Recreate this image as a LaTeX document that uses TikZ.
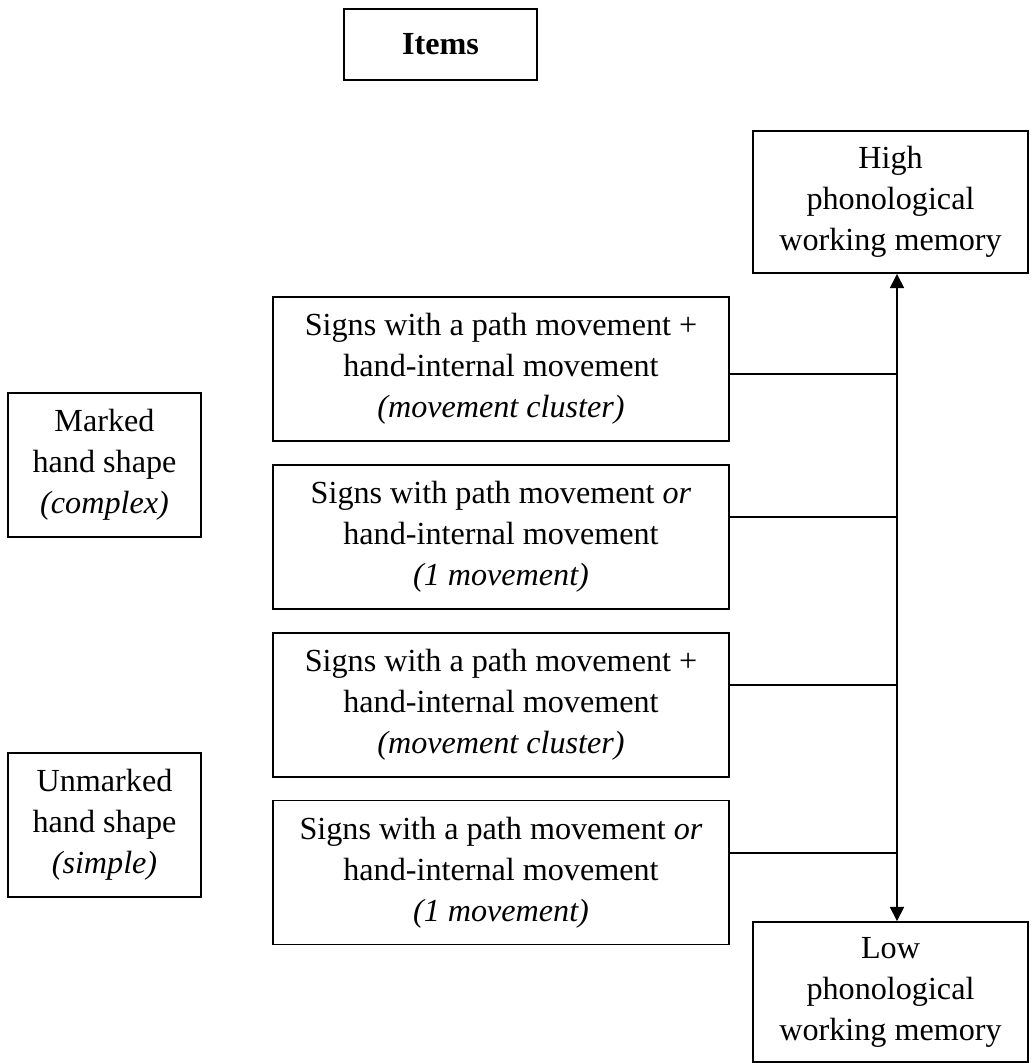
\documentclass[tikz,border=0pt]{standalone}
\usepackage{fontspec}
\setmainfont{Liberation Serif}
\usetikzlibrary{arrows.meta, positioning}

\tikzset{
    box/.style={draw=black, line width=1.1pt, align=center, inner sep=2pt,
        font=\fontsize{18.3}{23.3}\selectfont},
    signbox/.style={box, minimum width=9.12cm, minimum height=2.88cm},
    shapebox/.style={box, minimum width=3.86cm, minimum height=2.88cm},
    memorybox/.style={box, minimum width=5.5cm, minimum height=2.84cm},
    link/.style={line width=0.9pt}
}

\begin{document}
\begin{tikzpicture}

        \useasboundingbox (0,0) rectangle (20.64,-21.26);  % page size

        \node[box, minimum width=3.86cm, minimum height=1.42cm, font=\fontsize{18.3}{23.3}\selectfont\bfseries] (items) at (8.81,-0.89) {Items};

        % memory ends of the scale
        \node[memorybox] (high) at (17.81,-4.04) {High\\phonological\\working memory};
        \node[memorybox, minimum height=2.8cm] (low) at (17.81,-19.84) {Low\\phonological\\working memory};

        % hand shape groups
        \node[shapebox] (marked) at (2.09,-9.3) {Marked\\hand shape\\\textit{(complex)}};
        \node[shapebox] (unmarked) at (2.09,-16.5) {Unmarked\\hand shape\\\textit{(simple)}};

        % sign types
        \node[signbox] (sign1) at (10.02,-7.38) {Signs with a path movement +\\hand-internal movement\\\textit{(movement cluster)}};
        \node[signbox] (sign2) at (10.02,-10.74) {Signs with path movement \textit{or}\\hand-internal movement\\\textit{(1 movement)}};
        \node[signbox] (sign3) at (10.02,-14.1) {Signs with a path movement +\\hand-internal movement\\\textit{(movement cluster)}};
        \node[signbox] (sign4) at (10.02,-17.45) {Signs with a path movement \textit{or}\\hand-internal movement\\\textit{(1 movement)}};

        \coordinate (spine) at (17.94,0);
        \coordinate (j1) at (17.94,-7.48);
        \coordinate (j2) at (17.94,-10.34);
        \coordinate (j3) at (17.94,-13.7);
        \coordinate (j4) at (17.94,-17.06);

        \draw[link, {Triangle[length=8pt,width=8pt]}-{Triangle[length=8pt,width=8pt]}] (high.south -| spine) -- (low.north -| spine);

        \foreach \i in {1,...,4}
            \draw[link] (j\i -| sign\i.east) -- (j\i);

\end{tikzpicture}
\end{document}
